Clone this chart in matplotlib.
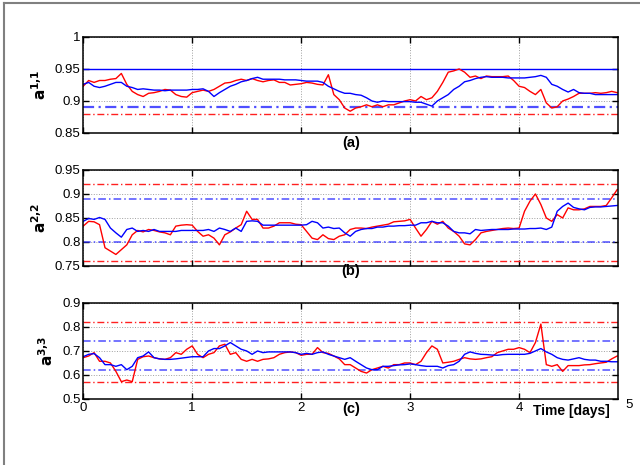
import numpy as np
import matplotlib
matplotlib.use("Agg")
import matplotlib.pyplot as plt
from matplotlib.lines import Line2D

plt.rcParams['font.family'] = ['Liberation Sans', 'DejaVu Sans']

# time axis, 0.05 day sampling
t = np.arange(99) * 0.05

# panel (a)  a^{1,1}
a_blue = [0.926, 0.929, 0.923, 0.921, 0.923, 0.926, 0.929, 0.929, 0.923, 0.921,
          0.918, 0.919, 0.918, 0.917, 0.917, 0.916, 0.917, 0.917, 0.917, 0.917,
          0.918, 0.918, 0.919, 0.915, 0.907, 0.913, 0.918, 0.923, 0.926, 0.930,
          0.932, 0.935, 0.937, 0.934, 0.934, 0.934, 0.934, 0.933, 0.933, 0.933,
          0.932, 0.931, 0.931, 0.931, 0.929, 0.923, 0.919, 0.915, 0.912, 0.912,
          0.910, 0.909, 0.905, 0.900, 0.898, 0.900, 0.899, 0.899, 0.899, 0.899,
          0.899, 0.898, 0.898, 0.895, 0.892, 0.900, 0.905, 0.910, 0.918, 0.923,
          0.930, 0.932, 0.935, 0.937, 0.938, 0.937, 0.937, 0.937, 0.936, 0.936,
          0.936, 0.936, 0.937, 0.938, 0.940, 0.937, 0.926, 0.923, 0.918, 0.914,
          0.918, 0.913, 0.912, 0.912, 0.910, 0.910, 0.910, 0.910, 0.910]
a_red = [0.923, 0.932, 0.929, 0.932, 0.932, 0.934, 0.935, 0.943, 0.926, 0.915,
         0.910, 0.907, 0.912, 0.913, 0.915, 0.918, 0.917, 0.910, 0.907, 0.906,
         0.913, 0.915, 0.917, 0.915, 0.918, 0.923, 0.928, 0.929, 0.932, 0.934,
         0.932, 0.935, 0.932, 0.930, 0.932, 0.933, 0.929, 0.929, 0.925, 0.926,
         0.927, 0.929, 0.928, 0.926, 0.925, 0.941, 0.910, 0.902, 0.889, 0.884,
         0.889, 0.891, 0.894, 0.891, 0.894, 0.891, 0.894, 0.894, 0.897, 0.900,
         0.902, 0.900, 0.907, 0.902, 0.905, 0.915, 0.929, 0.945, 0.947, 0.950,
         0.945, 0.937, 0.939, 0.935, 0.939, 0.938, 0.938, 0.938, 0.939, 0.932,
         0.923, 0.921, 0.915, 0.910, 0.918, 0.897, 0.889, 0.891, 0.900, 0.903,
         0.907, 0.912, 0.912, 0.912, 0.913, 0.912, 0.913, 0.915, 0.913]

# panel (b)  a^{2,2}
b_blue = [0.843, 0.849, 0.847, 0.851, 0.847, 0.829, 0.819, 0.810, 0.826, 0.829,
          0.822, 0.824, 0.822, 0.826, 0.822, 0.822, 0.822, 0.822, 0.824, 0.824,
          0.824, 0.824, 0.824, 0.826, 0.822, 0.829, 0.826, 0.822, 0.829, 0.822,
          0.843, 0.844, 0.843, 0.835, 0.835, 0.835, 0.835, 0.835, 0.835, 0.835,
          0.835, 0.836, 0.843, 0.840, 0.829, 0.831, 0.828, 0.829, 0.819, 0.812,
          0.822, 0.826, 0.828, 0.828, 0.831, 0.831, 0.833, 0.833, 0.834, 0.834,
          0.835, 0.835, 0.840, 0.840, 0.843, 0.840, 0.840, 0.833, 0.822, 0.819,
          0.819, 0.817, 0.826, 0.824, 0.825, 0.826, 0.826, 0.826, 0.826, 0.827,
          0.827, 0.827, 0.828, 0.828, 0.829, 0.826, 0.831, 0.864, 0.874, 0.881,
          0.872, 0.869, 0.867, 0.872, 0.873, 0.873, 0.874, 0.875, 0.876]
b_red = [0.833, 0.843, 0.842, 0.836, 0.788, 0.781, 0.774, 0.784, 0.794, 0.815,
         0.824, 0.821, 0.826, 0.824, 0.821, 0.819, 0.815, 0.833, 0.835, 0.836,
         0.835, 0.822, 0.812, 0.815, 0.808, 0.794, 0.815, 0.821, 0.829, 0.836,
         0.864, 0.847, 0.847, 0.829, 0.829, 0.833, 0.840, 0.840, 0.840, 0.837,
         0.836, 0.822, 0.808, 0.805, 0.815, 0.807, 0.805, 0.812, 0.815, 0.826,
         0.829, 0.829, 0.828, 0.831, 0.833, 0.835, 0.837, 0.842, 0.843, 0.844,
         0.847, 0.829, 0.812, 0.826, 0.843, 0.837, 0.843, 0.829, 0.822, 0.812,
         0.796, 0.794, 0.805, 0.819, 0.822, 0.824, 0.826, 0.828, 0.829, 0.828,
         0.829, 0.864, 0.885, 0.900, 0.878, 0.850, 0.843, 0.857, 0.850, 0.871,
         0.867, 0.867, 0.869, 0.874, 0.874, 0.874, 0.876, 0.892, 0.909]

# panel (c)  a^{3,3}
c_blue = [0.676, 0.686, 0.689, 0.672, 0.643, 0.643, 0.636, 0.643, 0.622, 0.636,
          0.672, 0.679, 0.696, 0.672, 0.667, 0.665, 0.665, 0.667, 0.670, 0.673,
          0.676, 0.676, 0.676, 0.700, 0.710, 0.710, 0.721, 0.735, 0.721, 0.707,
          0.700, 0.686, 0.700, 0.693, 0.696, 0.696, 0.696, 0.696, 0.696, 0.693,
          0.686, 0.690, 0.686, 0.693, 0.696, 0.686, 0.679, 0.672, 0.665, 0.672,
          0.657, 0.643, 0.629, 0.622, 0.622, 0.636, 0.636, 0.639, 0.642, 0.643,
          0.646, 0.643, 0.639, 0.636, 0.636, 0.636, 0.629, 0.639, 0.643, 0.657,
          0.686, 0.696, 0.690, 0.686, 0.685, 0.683, 0.682, 0.685, 0.686, 0.686,
          0.686, 0.686, 0.690, 0.700, 0.710, 0.696, 0.686, 0.672, 0.665, 0.662,
          0.667, 0.672, 0.665, 0.662, 0.662, 0.657, 0.657, 0.655, 0.655]
c_red = [0.672, 0.679, 0.693, 0.657, 0.657, 0.650, 0.615, 0.572, 0.579, 0.572,
         0.665, 0.676, 0.679, 0.672, 0.667, 0.665, 0.672, 0.693, 0.686, 0.707,
         0.721, 0.686, 0.672, 0.686, 0.693, 0.721, 0.728, 0.686, 0.693, 0.665,
         0.657, 0.665, 0.657, 0.665, 0.667, 0.672, 0.686, 0.693, 0.696, 0.693,
         0.682, 0.686, 0.686, 0.714, 0.693, 0.690, 0.679, 0.667, 0.643, 0.643,
         0.629, 0.615, 0.608, 0.622, 0.629, 0.636, 0.629, 0.643, 0.643, 0.650,
         0.650, 0.643, 0.657, 0.693, 0.721, 0.707, 0.650, 0.653, 0.657, 0.665,
         0.672, 0.667, 0.665, 0.667, 0.672, 0.676, 0.693, 0.700, 0.707, 0.707,
         0.714, 0.707, 0.693, 0.735, 0.812, 0.643, 0.636, 0.643, 0.615, 0.639,
         0.639, 0.639, 0.642, 0.643, 0.647, 0.650, 0.653, 0.667, 0.679]

ylabels = ['a^{1{,}1}', 'a^{2{,}2}', 'a^{3{,}3}']
panel_tags = ['(a)', '(b)', '(c)']
ylims = [(0.85, 1.0), (0.75, 0.95), (0.5, 0.9)]
yticks = [[0.85, 0.9, 0.95, 1.0], [0.75, 0.8, 0.85, 0.9, 0.95], [0.5, 0.6, 0.7, 0.8, 0.9]]
ytick_labels = [['0.85', '0.9', '0.95', '1'],
                ['0.75', '0.8', '0.85', '0.9', '0.95'],
                ['0.5', '0.6', '0.7', '0.8', '0.9']]
# bounds: blue dash-dot, red dash-dot, blue solid
blue_bounds = [[0.89], [0.89, 0.80], [0.74, 0.62]]
red_bounds = [[0.88], [0.92, 0.76], [0.82, 0.57]]
blue_solid = [[0.95], [], []]

blues = [a_blue, b_blue, c_blue]
reds = [a_red, b_red, c_red]

fig = plt.figure(figsize=(6.4, 4.65), dpi=100)
x_end = 4.91
bottoms = [0.714, 0.428, 0.142]
height = 0.2065
axes = []
for i in range(3):
    ax = fig.add_axes([0.130, bottoms[i], 0.836, height])
    axes.append(ax)
    ax.set_xlim(0, x_end)
    ax.set_ylim(*ylims[i])
    ax.set_xticks([0, 1, 2, 3, 4])
    ax.set_yticks(yticks[i])
    ax.set_yticklabels(ytick_labels[i])
    ax.grid(True, linestyle=':', color='#a0a0a0', linewidth=0.7)
    ax.set_axisbelow(True)
    ax.tick_params(direction='in', top=True, right=True, labelsize=9.5, length=4, width=1, pad=2)
    for sp in ax.spines.values():
        sp.set_linewidth(1.1)
    for v in blue_solid[i]:
        ax.axhline(v, color='#0000ff', lw=1.0)
    for v in red_bounds[i]:
        ax.axhline(v, color='#ff2020', lw=1.0, ls='-.', dashes=(5, 2, 1, 2))
    for v in blue_bounds[i]:
        lw_b = 1.6 if i == 0 else 1.1
        ax.axhline(v, color='#3030ff', lw=lw_b, ls='-.', alpha=0.85, dashes=(5, 2, 1, 2))
    ax.plot(t, reds[i], color='#ff0000', lw=1.0)
    ax.plot(t, blues[i], color='#0000ff', lw=1.0)
    ax.set_ylabel('$\\mathbf{' + ylabels[i] + '}$', fontsize=11, labelpad=4)
    if i < 2:
        ax.set_xticklabels([])
    else:
        ax.set_xticklabels(['0', '1', '2', '3', '4'])
    tag_y = -0.10 if i != 1 else -0.05
    ax.text(0.5, tag_y, panel_tags[i], transform=ax.transAxes, ha='center', va='center',
            fontsize=10.5, fontweight='bold')

axes[2].text(4.48, -0.13, 'Time [days]', transform=axes[2].get_xaxis_transform(),
             ha='center', va='center', fontsize=10, fontweight='bold')
axes[2].text(x_end + 0.1, -0.06, '5', transform=axes[2].get_xaxis_transform(),
             ha='center', va='center', fontsize=9.5)

# outer frame (top and left edges of the original figure box)
fig.add_artist(Line2D([4 / 640, 1.0], [1 - 3 / 465, 1 - 3 / 465], transform=fig.transFigure,
                      color='#808080', lw=1.5))
fig.add_artist(Line2D([4 / 640, 4 / 640], [0.0, 1 - 3 / 465], transform=fig.transFigure,
                      color='#808080', lw=1.5))

fig.savefig('out.png', dpi=100)
